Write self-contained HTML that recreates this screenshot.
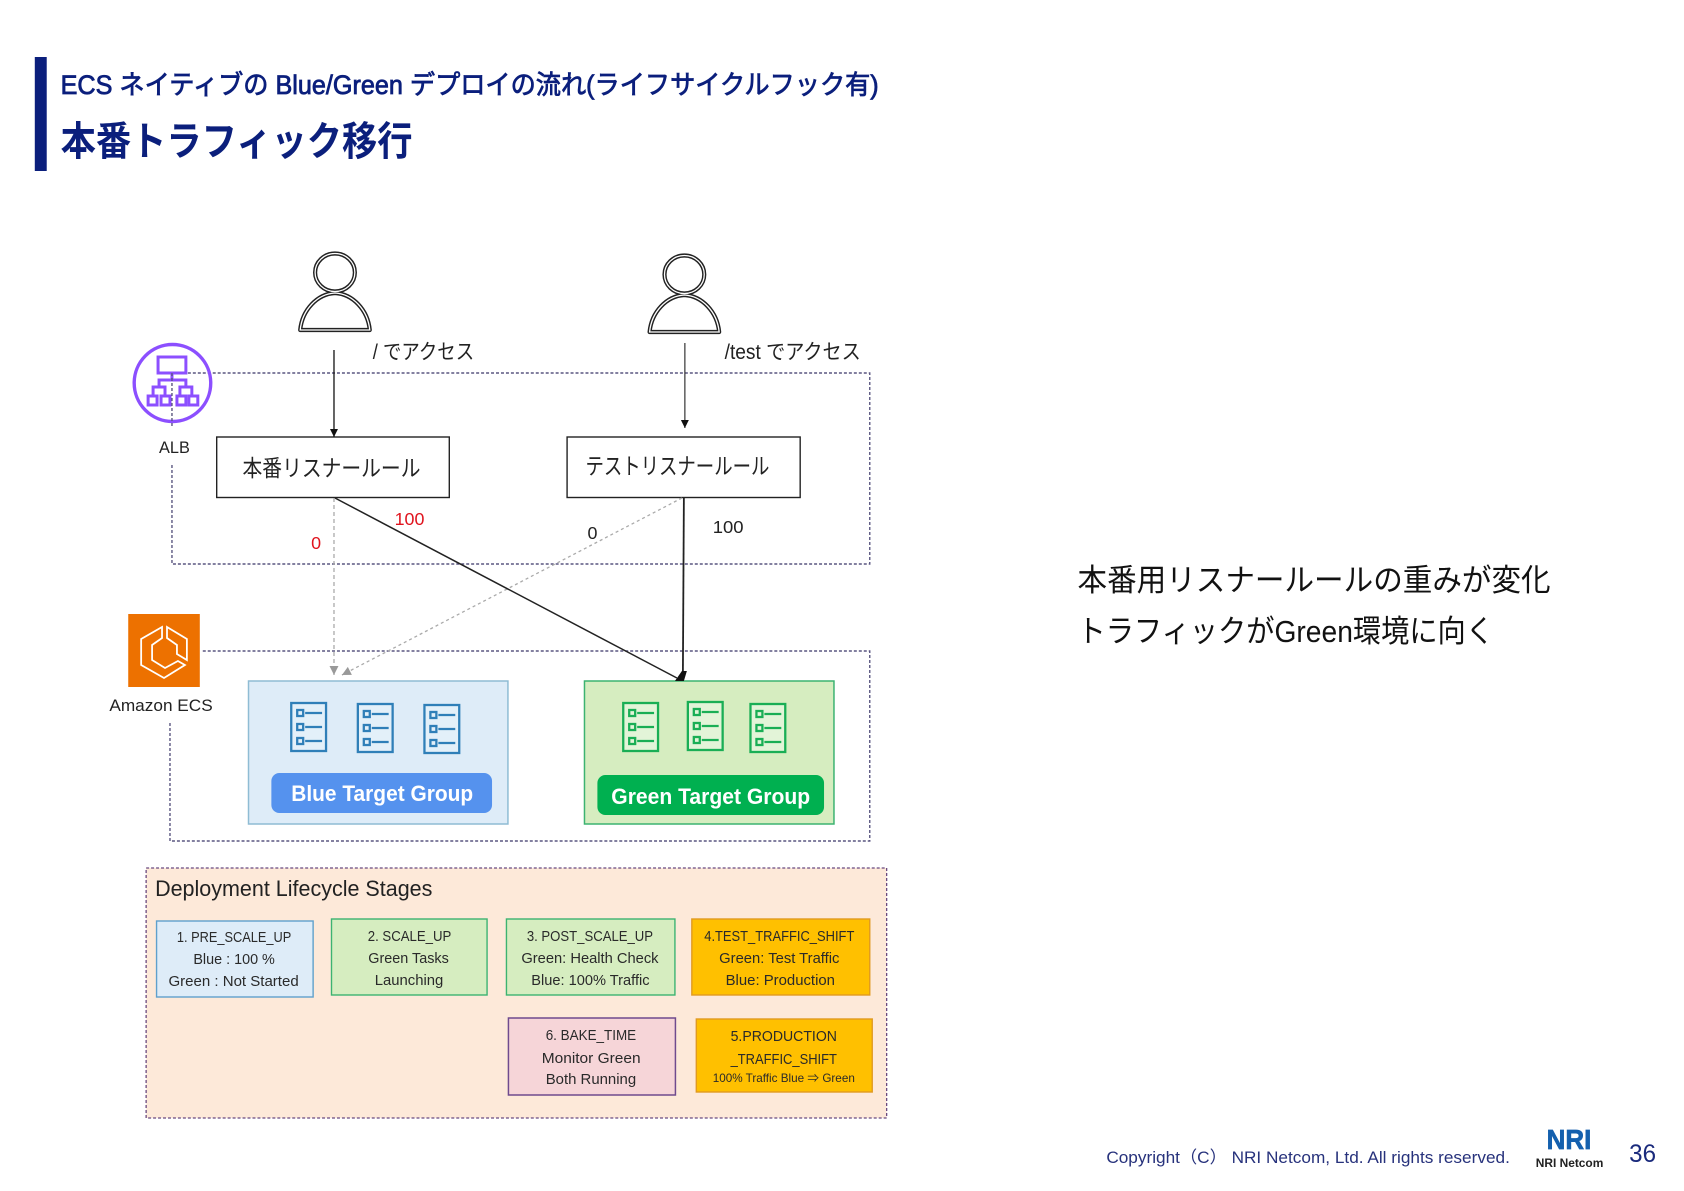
<!DOCTYPE html>
<html lang="ja">
<head>
<meta charset="utf-8">
<title>本番トラフィック移行</title>
<style>
html,body{margin:0;padding:0;background:#fff;width:1684px;height:1191px;overflow:hidden}
svg{display:block}
text{font-family:"Liberation Sans","Noto Sans CJK JP",sans-serif;fill:#222}
.navy{fill:#0b1f7c}
.foot{fill:#27327c}
.st{font-size:15px;fill:#2a2a2a}
.wt{fill:#fff;font-weight:700;font-size:22px}
.dash{fill:none;stroke:#5a5680;stroke-width:1.4;stroke-dasharray:3 2}
</style>
</head>
<body>
<svg width="1684" height="1191" viewBox="0 0 1684 1191" xmlns="http://www.w3.org/2000/svg">
<defs>
<marker id="ab" markerWidth="10" markerHeight="10" refX="8" refY="4" orient="auto" markerUnits="userSpaceOnUse"><path d="M0,0 L8,4 L0,8 Z" fill="#111"/></marker>
<marker id="ag" markerWidth="11" markerHeight="10" refX="9" refY="4.5" orient="auto" markerUnits="userSpaceOnUse"><path d="M0,0 L9,4.5 L0,9 Z" fill="#999"/></marker>
<g id="listb" fill="none" stroke="#2f7fb8" stroke-width="2.3">
<rect x="1" y="1" width="35" height="48" fill="#e3f0f9"/>
<rect x="7" y="8" width="6" height="6"/><rect x="7" y="22" width="6" height="6"/><rect x="7" y="36" width="6" height="6"/>
<path d="M15,11H32M15,25H32M15,39H32"/>
</g>
<g id="listg" fill="none" stroke="#1aae55" stroke-width="2.3">
<rect x="1" y="1" width="35" height="48" fill="#e3f4d8"/>
<rect x="7" y="8" width="6" height="6"/><rect x="7" y="22" width="6" height="6"/><rect x="7" y="36" width="6" height="6"/>
<path d="M15,11H32M15,25H32M15,39H32"/>
</g>
<g id="person">
<g fill="#fff" stroke="#222" stroke-width="4.2" stroke-linejoin="round">
<ellipse cx="336" cy="272.500" rx="20" ry="19"/>
<path d="M301,330 H371 C369,310 354,294 336,293 C318,294 303,310 301,330 Z"/>
</g>
<g fill="none" stroke="#fff" stroke-width="1.3">
<ellipse cx="336" cy="272.500" rx="20" ry="19"/>
<path d="M301,330 H371 C369,310 354,294 336,293 C318,294 303,310 301,330 Z"/>
</g>
</g>
</defs>

<g transform="translate(1,0) scale(0.994,1)">
<!-- header -->
<rect x="34" y="57" width="12" height="114" fill="#0b1f7c"/>
<text class="navy" x="60" y="94" font-size="27" stroke="#0b1f7c" stroke-width="0.8" textLength="823" lengthAdjust="spacingAndGlyphs">ECS ネイティブの Blue/Green デプロイの流れ(ライフサイクルフック有)</text>
<text class="navy" x="60" y="155" font-size="40" font-weight="700" textLength="354" lengthAdjust="spacingAndGlyphs">本番トラフィック移行</text>

<!-- users -->
<use href="#person"/>
<use href="#person" x="351.5" y="2"/>

<!-- ALB region -->
<path class="dash" d="M188,373 H874 V564 H172 V465"/>
<!-- ECS region -->
<path class="dash" d="M203,651 H874 V841 H170 V723"/>

<!-- ALB icon -->
<g fill="none" stroke="#8c4fff" stroke-width="3">
<circle cx="172.5" cy="383" r="38.5" stroke-width="3.4"/>
<rect x="158" y="357" width="28" height="16"/>
<path d="M172,373 V380 M159,387 V380 H186 V387 M153,396 V387 H165 V396 M180,396 V387 H192 V396"/>
<rect x="148" y="396" width="9" height="9"/><rect x="161" y="396" width="9" height="9"/><rect x="177" y="396" width="9" height="9"/><rect x="189" y="396" width="9" height="9"/>
</g>
<path class="dash" d="M172,373 V426"/>
<text x="159" y="453" font-size="17" textLength="31" lengthAdjust="spacingAndGlyphs">ALB</text>

<!-- ECS icon -->
<rect x="128" y="614" width="72" height="73" fill="#ed7100"/>
<g fill="none" stroke="#fff" stroke-width="1.8" stroke-linejoin="miter">
<path d="M162,627 L141,639 V665 L164,678 L185,665 L178,661 L165,668 L152,660 V645 L162,638 Z"/>
<path d="M167,627 L187,639 V660 L177,654 V645 L167,638 Z"/>
</g>
<text x="109" y="711" font-size="17" textLength="104" lengthAdjust="spacingAndGlyphs">Amazon ECS</text>

<!-- target groups -->
<rect x="249" y="681" width="261" height="143" fill="#deecf8" stroke="#8fbcd4" stroke-width="1.5"/>
<use href="#listb" x="291" y="702"/>
<use href="#listb" x="358" y="703"/>
<use href="#listb" x="425" y="704"/>
<rect x="272" y="773" width="222" height="40" rx="8" fill="#5592ee"/>
<text class="wt" x="292" y="801" textLength="183" lengthAdjust="spacingAndGlyphs">Blue Target Group</text>

<rect x="587" y="681" width="251" height="143" fill="#d6edc0" stroke="#3cb371" stroke-width="1.5"/>
<use href="#listg" x="625" y="702"/>
<use href="#listg" x="690" y="701"/>
<use href="#listg" x="753" y="703"/>
<rect x="600" y="775" width="228" height="40" rx="8" fill="#00b050"/>
<text class="wt" x="614" y="804" textLength="200" lengthAdjust="spacingAndGlyphs">Green Target Group</text>

<!-- rule boxes -->
<rect x="217" y="437" width="234" height="60.500" fill="#fff" stroke="#222" stroke-width="1.4"/>
<text x="243" y="476" font-size="23" textLength="179" lengthAdjust="spacingAndGlyphs">本番リスナールール</text>
<rect x="569.500" y="437" width="234.500" height="60.500" fill="#fff" stroke="#222" stroke-width="1.4"/>
<text x="588" y="474" font-size="23" textLength="185" lengthAdjust="spacingAndGlyphs">テストリスナールール</text>

<!-- connectors -->
<line x1="335" y1="350" x2="335" y2="437" stroke="#111" stroke-width="1.3" marker-end="url(#ab)"/>
<line x1="688" y1="343" x2="688" y2="428" stroke="#333" stroke-width="1.2" marker-end="url(#ab)"/>
<line x1="335" y1="498" x2="335" y2="675" stroke="#aaa" stroke-width="1.3" stroke-dasharray="4 3" marker-end="url(#ag)"/>
<line x1="685" y1="498" x2="343" y2="675" stroke="#aaa" stroke-width="1.3" stroke-dasharray="3 3" marker-end="url(#ag)"/>
<line x1="336" y1="498" x2="680" y2="678" stroke="#222" stroke-width="1.5"/>
<line x1="687" y1="498" x2="686" y2="675" stroke="#222" stroke-width="1.8"/>
<path d="M678,681 L685,671 L690,671 L687,681 Z" fill="#111"/>

<!-- labels -->
<text x="374" y="359" font-size="21" textLength="102" lengthAdjust="spacingAndGlyphs">/ でアクセス</text>
<text x="728" y="359" font-size="21" textLength="137" lengthAdjust="spacingAndGlyphs">/test でアクセス</text>
<text x="396" y="525" font-size="18" style="fill:#e0141e" textLength="30" lengthAdjust="spacingAndGlyphs">100</text>
<text x="312" y="549" font-size="18" style="fill:#e0141e">0</text>
<text x="590" y="539" font-size="18">0</text>
<text x="716" y="533" font-size="18" textLength="31" lengthAdjust="spacingAndGlyphs">100</text>

<!-- stages -->
<rect x="146" y="868" width="745" height="250" fill="#fde9d9" stroke="#6a4a80" stroke-width="1.3" stroke-dasharray="3 2"/>
<text x="155" y="896" font-size="22" textLength="279" lengthAdjust="spacingAndGlyphs">Deployment Lifecycle Stages</text>

<rect x="156.500" y="921" width="157.500" height="76" fill="#deecf8" stroke="#5fa0cc" stroke-width="1.4"/>
<text class="st" x="177" y="942" textLength="115" lengthAdjust="spacingAndGlyphs">1. PRE_SCALE_UP</text>
<text class="st" x="193.500" y="964" textLength="82" lengthAdjust="spacingAndGlyphs">Blue : 100 %</text>
<text class="st" x="168.500" y="986" textLength="131" lengthAdjust="spacingAndGlyphs">Green : Not Started</text>

<rect x="332.500" y="919" width="156.500" height="76" fill="#d6edc0" stroke="#3cb371" stroke-width="1.4"/>
<text class="st" x="369" y="941" textLength="84" lengthAdjust="spacingAndGlyphs">2. SCALE_UP</text>
<text class="st" x="369.500" y="963" textLength="81" lengthAdjust="spacingAndGlyphs">Green Tasks</text>
<text class="st" x="376" y="985" textLength="69" lengthAdjust="spacingAndGlyphs">Launching</text>

<rect x="508.500" y="919" width="169.500" height="76" fill="#d6edc0" stroke="#3cb371" stroke-width="1.4"/>
<text class="st" x="529" y="941" textLength="127" lengthAdjust="spacingAndGlyphs">3. POST_SCALE_UP</text>
<text class="st" x="523.500" y="963" textLength="138" lengthAdjust="spacingAndGlyphs">Green: Health Check</text>
<text class="st" x="533.500" y="985" textLength="119" lengthAdjust="spacingAndGlyphs">Blue: 100% Traffic</text>

<rect x="695" y="919" width="179" height="76" fill="#ffc000" stroke="#e09a20" stroke-width="1.4"/>
<text class="st" x="707.500" y="941" textLength="151" lengthAdjust="spacingAndGlyphs">4.TEST_TRAFFIC_SHIFT</text>
<text class="st" x="722.500" y="963" textLength="121" lengthAdjust="spacingAndGlyphs">Green: Test Traffic</text>
<text class="st" x="729" y="985" textLength="110" lengthAdjust="spacingAndGlyphs">Blue: Production</text>

<rect x="510.500" y="1018" width="168" height="77" fill="#f6d5d8" stroke="#6f4a8e" stroke-width="1.5"/>
<text class="st" x="548" y="1040" textLength="91" lengthAdjust="spacingAndGlyphs">6. BAKE_TIME</text>
<text class="st" x="544" y="1063" textLength="99.500" lengthAdjust="spacingAndGlyphs">Monitor Green</text>
<text class="st" x="548" y="1084" textLength="91" lengthAdjust="spacingAndGlyphs">Both Running</text>

<rect x="699.500" y="1019" width="177" height="73" fill="#ffc000" stroke="#e09a20" stroke-width="1.4"/>
<text class="st" x="734" y="1041" textLength="107" lengthAdjust="spacingAndGlyphs">5.PRODUCTION</text>
<text class="st" x="734" y="1064" textLength="107" lengthAdjust="spacingAndGlyphs">_TRAFFIC_SHIFT</text>
<text class="st" x="716" y="1082" style="font-size:11.500px" textLength="143" lengthAdjust="spacingAndGlyphs">100% Traffic Blue ⇒ Green</text>

<!-- right text -->
<text x="1083" y="591" font-size="31" style="fill:#111" textLength="476" lengthAdjust="spacingAndGlyphs">本番用リスナールールの重みが変化</text>
<text x="1083" y="642" font-size="31" style="fill:#111" textLength="419" lengthAdjust="spacingAndGlyphs">トラフィックがGreen環境に向く</text>

<!-- footer -->
<text class="foot" x="1112" y="1163" font-size="17" textLength="406" lengthAdjust="spacingAndGlyphs">Copyright（C） NRI Netcom, Ltd. All rights reserved.</text>
<text x="1555" y="1149" font-size="28" font-weight="700" stroke="#1460ae" stroke-width="0.7" style="fill:#1460ae" textLength="45" lengthAdjust="spacingAndGlyphs">NRI</text>
<text x="1544" y="1167" font-size="11.500" font-weight="700" style="fill:#222" textLength="68" lengthAdjust="spacingAndGlyphs">NRI Netcom</text>
<text x="1638" y="1162" font-size="25" style="fill:#1a2a7c" textLength="27" lengthAdjust="spacingAndGlyphs">36</text>
</g>
</svg>
</body>
</html>
